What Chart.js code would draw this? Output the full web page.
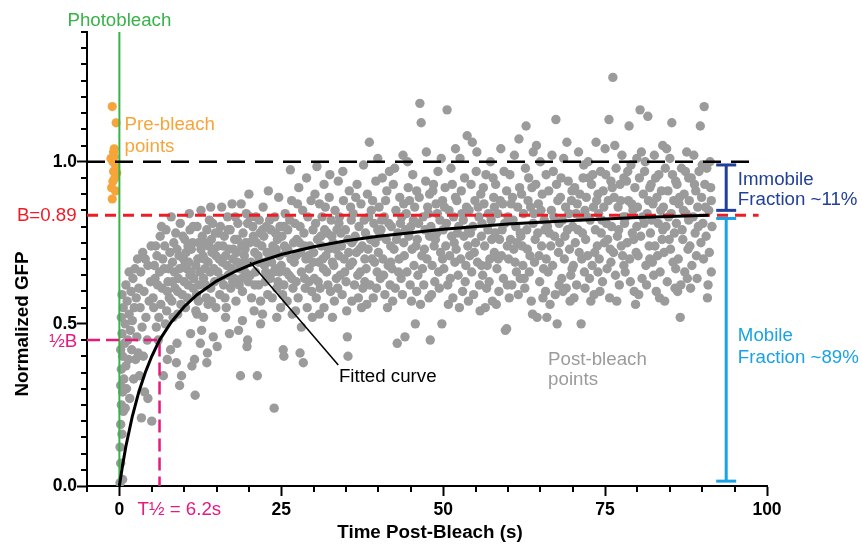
<!DOCTYPE html>
<html lang="en">
<head>
    <meta charset="UTF-8">
    <title>FRAP Recovery</title>
    <script src="https://cdn.jsdelivr.net/npm/chart.js"></script>
    <style>
        body {
            margin: 0;
            background: #fff;
        }
    </style>
</head>
<body>
    <canvas id="frap-chart" width="862" height="547"></canvas>

    <script>
        // pre-bleach intensities (time s, normalized GFP)
        const prebleachTime  = [-1.1, -0.5, -0.8, -0.9, -1.3, -1.0, -0.6, -0.9, -0.7, -1.0, -1.2, -0.6, -1.1, -0.8, -0.4];
        const prebleachValue = [1.17, 1.12, 1.04, 1.03, 1.01, 1.0, 0.99, 0.97, 0.95, 0.94, 0.92, 0.91, 0.885, 1.015, 0.965];

        // post-bleach points in time bands [t, value]
        const recovery0to5 = [
            [0.1,0.01],[0.5,0.02],[0.2,0.07],[0.1,0.12],[0.4,0.16],[0.2,0.19],[0.6,0.23],[0.3,0.25],[0.9,0.24],[0.5,0.29],
            [0.2,0.31],[1.1,0.30],[0.7,0.33],[0.3,0.36],[1.0,0.37],[0.5,0.40],[1.4,0.39],[0.2,0.42],[0.8,0.44],[1.3,0.45],
            [0.4,0.47],[1.7,0.48],[0.9,0.50],[0.3,0.52],[1.5,0.53],[2.0,0.51],[0.6,0.55],[1.2,0.57],[2.3,0.55],[0.4,0.59],
            [1.8,0.60],[2.6,0.58],[1.0,0.62],[2.1,0.64],[3.0,0.61],[2.4,0.67],[1.5,0.66],[3.3,0.66],[2.8,0.70],[3.6,0.72],
            [4.0,0.70],[4.4,0.68],[3.4,0.21],[5.0,0.20],[4.4,0.27],[3.9,0.29],[3.1,0.34],[2.5,0.39],[1.9,0.42],[2.7,0.46],
            [3.5,0.49],[4.1,0.52],[3.2,0.55],[4.6,0.57],[3.8,0.60],[4.8,0.63],[2.2,0.33],[1.6,0.27],[2.9,0.41],[4.3,0.45],
            [3.7,0.40],[4.9,0.74]
        ];
        const recovery5to15 = [
            [5.2,0.58],[5.5,0.64],[5.8,0.71],[6.1,0.52],[6.3,0.77],[6.6,0.61],[5.4,0.68],[6.0,0.45],[6.8,0.34],[6.9,0.67],
            [5.7,0.49],[6.4,0.56],[7.0,0.74],[5.9,0.62],[6.7,0.70],[5.3,0.55],[6.2,0.66],
            [7.2,0.79],[7.4,0.39],[7.5,0.63],[7.7,0.58],[7.9,0.42],[8.0,0.83],[8.2,0.69],[8.4,0.75],[7.3,0.54],[7.8,0.72],
            [8.6,0.61],[8.8,0.38],[8.9,0.44],[8.5,0.66],[8.1,0.57],[7.6,0.67],[8.7,0.78],[7.1,0.50],[8.3,0.52],[8.9,0.73],
            [9.1,0.64],[9.3,0.31],[9.4,0.81],[9.6,0.34],[9.7,0.59],[9.9,0.70],[10.1,0.76],[10.2,0.55],[10.4,0.67],[10.6,0.62],
            [10.8,0.84],[11.0,0.47],[9.2,0.71],[9.5,0.56],[9.8,0.77],[10.0,0.63],[10.3,0.72],[10.5,0.58],[10.7,0.69],[10.9,0.65],
            [9.0,0.60],[10.9,0.79],
            [11.1,0.73],[11.2,0.37],[11.4,0.61],[11.6,0.39],[11.7,0.28],[11.8,0.68],[12.0,0.80],[12.2,0.57],[12.4,0.66],[12.5,0.44],
            [12.6,0.85],[12.7,0.48],[12.9,0.71],[11.3,0.75],[11.5,0.64],[11.9,0.59],[12.1,0.70],[12.3,0.62],[12.8,0.77],[11.0,0.66],
            [12.0,0.53],[12.6,0.73],
            [13.0,0.64],[13.2,0.75],[13.4,0.58],[13.5,0.38],[13.6,0.41],[13.7,0.69],[13.9,0.82],[14.1,0.61],[14.3,0.72],[14.5,0.46],
            [14.6,0.67],[14.8,0.78],[14.9,0.55],[13.1,0.70],[13.3,0.62],[13.8,0.74],[14.0,0.66],[14.2,0.57],[14.4,0.81],[14.7,0.63],
            [14.9,0.71],[13.5,0.79],[14.2,0.76],[13.0,0.52],
            [5.6,0.74],[6.5,0.80],[7.4,0.60],[8.2,0.63],[9.3,0.67],[10.1,0.68],[11.4,0.80],[12.2,0.75],[13.2,0.67],[14.6,0.73],
            [10.6,0.74],[9.0,0.53],[11.8,0.54],[13.7,0.56],[14.1,0.86]
        ];
        const recovery15to30 = [
            [15.1,0.43],[15.2,0.66],[15.3,0.74],[15.5,0.59],[15.6,0.80],[15.8,0.86],[15.9,0.69],[16.1,0.62],[16.2,0.77],[16.4,0.71],
            [16.5,0.55],[16.7,0.83],[16.8,0.65],[16.9,0.73],[15.4,0.70],[16.3,0.58],[15.7,0.64],[16.6,0.68],
            [17.0,0.47],[17.1,0.79],[17.2,0.61],[17.4,0.87],[17.5,0.70],[17.7,0.64],[17.8,0.76],[18.0,0.57],[18.1,0.72],[18.3,0.81],
            [18.4,0.48],[18.6,0.67],[18.7,0.34],[18.8,0.87],[18.9,0.74],[17.3,0.67],[17.9,0.83],[18.5,0.62],[18.2,0.69],[17.6,0.73],
            [19.0,0.60],[19.1,0.78],[19.3,0.71],[19.4,0.66],[19.6,0.84],[19.7,0.43],[19.8,0.45],[19.9,0.63],[20.0,0.90],[20.1,0.75],
            [20.3,0.69],[20.4,0.58],[20.6,0.80],[20.8,0.54],[20.9,0.72],[19.2,0.69],[19.5,0.75],[20.2,0.65],[20.7,0.77],[19.8,0.81],
            [21.0,0.66],[21.1,0.83],[21.3,0.34],[21.4,0.71],[21.5,0.62],[21.7,0.78],[21.8,0.57],[22.0,0.74],[22.1,0.53],[22.2,0.86],
            [22.4,0.68],[22.5,0.63],[22.7,0.80],[22.8,0.72],[22.9,0.59],[21.2,0.75],[21.9,0.69],[22.3,0.77],[22.6,0.66],[21.6,0.82],
            [23.0,0.91],[23.1,0.70],[23.3,0.64],[23.4,0.79],[23.6,0.58],[23.7,0.74],[23.9,0.24],[24.0,0.83],[24.1,0.67],[24.3,0.61],
            [24.4,0.76],[24.6,0.89],[24.7,0.71],[24.9,0.55],[23.2,0.82],[23.8,0.66],[24.2,0.73],[24.8,0.80],[23.5,0.69],[24.5,0.63],
            [25.0,0.68],[25.1,0.77],[25.3,0.42],[25.4,0.40],[25.4,0.62],[25.6,0.84],[25.7,0.72],[25.9,0.57],[26.0,0.79],[26.2,0.65],
            [26.4,0.975],[26.5,0.70],[26.6,0.88],[26.8,0.61],[26.9,0.75],[25.2,0.59],[25.8,0.66],[26.3,0.82],[26.7,0.53],[25.5,0.74],
            [27.0,0.69],[27.1,0.81],[27.3,0.63],[27.4,0.76],[27.6,0.58],[27.7,0.92],[27.9,0.41],[28.0,0.72],[28.1,0.66],[28.3,0.85],
            [28.4,0.38],[28.5,0.78],[28.7,0.61],[28.8,0.70],[29.0,0.55],[29.1,0.83],[29.3,0.67],[29.4,0.74],[29.6,0.88],[29.7,0.60],
            [29.9,0.79],[27.2,0.54],[27.8,0.75],[28.6,0.64],[29.2,0.71],[29.8,0.52],[28.9,0.95],[27.5,0.87],
            [15.3,0.78],[16.0,0.74],[16.8,0.79],[17.5,0.63],[18.2,0.76],[18.9,0.64],[19.4,0.73],[20.2,0.83],[20.9,0.62],[21.5,0.69],
            [22.1,0.79],[22.8,0.65],[23.4,0.72],[24.1,0.78],[24.7,0.66],[25.4,0.80],[26.0,0.73],[26.6,0.64],[27.3,0.71],[27.9,0.80],
            [28.6,0.74],[29.3,0.63],[29.9,0.69],[16.4,0.52],[19.0,0.51],[21.8,0.50],[24.3,0.52],[28.1,0.49]
        ];
        const recovery30to50 = [
            [30.0,0.72],[30.1,0.64],[30.3,0.81],[30.4,0.58],[30.5,0.985],[30.6,0.76],[30.8,0.69],[30.9,0.87],[31.0,0.61],[31.2,0.74],
            [31.3,0.83],[31.5,0.67],[31.6,0.55],[31.7,0.79],[31.9,0.71],[30.2,0.90],[30.7,0.63],[31.1,0.77],[31.4,0.70],[31.8,0.86],
            [30.9,0.53],[31.6,0.93],
            [32.0,0.66],[32.1,0.78],[32.3,0.73],[32.4,0.89],[32.6,0.60],[32.7,0.82],[32.9,0.69],[33.0,0.75],[33.2,0.57],[33.3,0.85],
            [33.5,0.64],[33.6,0.79],[33.8,0.94],[33.9,0.71],[32.2,0.62],[32.8,0.77],[33.1,0.68],[33.4,0.73],[33.7,0.61],[32.5,0.96],
            [33.9,0.81],[32.9,0.52],
            [34.0,0.83],[34.1,0.65],[34.3,0.74],[34.4,0.59],[34.6,0.88],[34.7,0.70],[34.9,0.79],[35.0,0.63],[35.2,0.46],[35.3,0.40],
            [35.3,0.76],[35.5,0.91],[35.6,0.68],[35.8,0.82],[35.9,0.57],[34.2,0.78],[34.8,0.66],[35.4,0.72],[35.7,0.86],[34.5,0.97],
            [35.1,0.54],[35.9,0.75],
            [36.0,0.69],[36.1,0.84],[36.3,0.62],[36.4,0.77],[36.6,0.72],[36.7,0.93],[36.9,0.58],[37.0,0.80],[37.2,0.66],[37.3,0.87],
            [37.5,0.74],[37.6,0.61],[37.8,0.82],[37.9,0.70],[36.2,0.76],[36.8,0.65],[37.1,0.73],[37.4,0.55],[37.7,0.99],[36.5,0.89],
            [37.9,0.63],
            [38.0,0.78],[38.1,0.67],[38.3,0.90],[38.4,0.73],[38.6,1.06],[38.7,0.62],[38.9,0.85],[39.0,0.70],[39.2,0.58],[39.3,0.81],
            [39.5,0.75],[39.6,0.94],[39.8,0.66],[39.9,0.79],[38.2,0.56],[38.8,0.76],[39.1,0.88],[39.4,0.69],[39.7,0.61],[38.5,0.83],
            [39.9,1.01],
            [40.0,0.72],[40.1,0.86],[40.3,0.64],[40.4,0.79],[40.6,0.95],[40.7,0.70],[40.9,0.83],[41.0,0.59],[41.2,0.76],[41.3,0.91],
            [41.5,0.68],[41.6,0.81],[41.8,0.62],[41.9,0.74],[40.2,0.77],[40.8,0.65],[41.1,0.88],[41.4,0.55],[41.7,0.97],[40.5,0.82],
            [41.9,0.69],
            [42.0,0.80],[42.1,0.67],[42.3,0.93],[42.4,0.73],[42.6,0.61],[42.7,0.85],[42.9,0.44],[43.0,0.78],[43.2,0.70],[43.3,0.89],
            [43.5,0.64],[43.6,0.83],[43.8,1.02],[43.9,0.75],[42.2,0.57],[42.8,0.76],[43.1,0.66],[43.4,0.81],[43.7,0.59],[42.5,0.98],
            [43.9,0.87],
            [44.0,0.71],[44.1,0.46],[44.3,0.84],[44.4,0.66],[44.6,0.92],[44.7,0.77],[44.9,0.62],[45.0,0.80],[45.2,0.73],[45.3,0.96],
            [45.5,0.68],[45.6,0.86],[45.7,0.50],[45.8,0.74],[45.9,0.60],[44.2,0.79],[44.8,0.88],[45.1,0.57],[45.4,0.82],[44.5,1.00],
            [45.9,0.91],
            [46.0,0.76],[46.1,0.65],[46.3,0.89],[46.4,1.18],[46.6,1.12],[46.7,0.71],[46.9,0.83],[47.0,0.62],[47.2,0.79],[47.3,0.94],
            [47.5,0.70],[47.6,0.86],[47.8,0.58],[47.9,0.77],[46.2,0.81],[46.8,0.67],[47.1,0.73],[47.4,1.03],[47.7,0.84],[46.5,0.56],
            [47.9,0.90],
            [48.0,0.45],[48.1,0.80],[48.3,0.68],[48.4,0.91],[48.6,0.74],[48.7,0.63],[48.9,0.87],[49.0,0.78],[49.2,0.97],[49.3,0.66],
            [49.5,0.82],[49.6,0.72],[49.8,0.50],[49.9,0.88],[48.2,0.59],[48.8,0.76],[49.1,0.84],[49.4,0.61],[49.7,1.01],[48.5,0.93],
            [49.9,0.70]
        ];
        const recovery50to70 = [
            [50.0,0.79],[50.1,0.67],[50.3,0.92],[50.4,0.74],[50.6,1.16],[50.7,0.62],[50.9,0.85],[51.0,0.71],[51.2,0.98],[51.3,0.77],
            [51.5,0.58],[51.6,0.83],[51.8,0.69],[51.9,0.89],[50.2,0.86],[50.8,0.56],[51.1,0.64],[51.4,0.93],[51.7,0.75],[50.5,0.81],
            [51.9,1.04],
            [52.0,0.73],[52.1,0.88],[52.3,0.65],[52.4,0.80],[52.6,1.01],[52.7,0.70],[52.9,0.84],[53.0,0.60],[53.2,0.77],[53.3,0.95],
            [53.5,0.68],[53.6,0.86],[53.8,0.74],[53.9,0.57],[52.2,0.78],[52.8,0.91],[53.1,0.82],[53.4,0.63],[53.7,1.08],[52.5,0.55],
            [53.9,0.79],
            [54.0,0.85],[54.1,0.71],[54.3,0.93],[54.4,0.66],[54.6,0.80],[54.7,0.59],[54.9,0.88],[55.0,0.75],[55.2,1.03],[55.3,0.69],
            [55.5,0.83],[55.6,0.62],[55.8,0.90],[55.9,0.77],[54.2,0.78],[54.8,0.72],[55.1,0.97],[55.4,0.86],[55.7,0.54],[54.5,1.06],
            [55.9,0.68],
            [56.0,0.81],[56.1,0.65],[56.3,0.87],[56.4,0.74],[56.6,0.96],[56.7,0.61],[56.9,0.79],[57.0,0.84],[57.2,0.70],[57.3,1.00],
            [57.5,0.76],[57.6,0.57],[57.8,0.89],[57.9,0.72],[56.2,0.92],[56.8,0.68],[57.1,0.63],[57.4,0.82],[57.7,0.95],[56.5,0.55],
            [57.9,0.86],
            [58.0,0.78],[58.1,0.93],[58.3,0.67],[58.4,0.84],[58.6,0.60],[58.7,0.76],[58.9,1.04],[59.0,0.71],[59.2,0.87],[59.3,0.64],
            [59.5,0.81],[59.6,0.48],[59.8,0.485],[59.8,0.91],[59.9,0.74],[58.2,0.56],[58.8,0.88],[59.1,0.79],[59.4,0.97],[58.5,0.70],
            [59.9,0.62],
            [60.0,0.83],[60.1,0.70],[60.3,0.96],[60.4,0.76],[60.6,0.62],[60.7,0.89],[60.9,0.73],[61.0,1.02],[61.2,0.80],[61.3,0.66],
            [61.5,0.86],[61.6,0.59],[61.8,0.92],[61.9,0.78],[60.2,0.58],[60.8,0.82],[61.1,0.69],[61.4,0.75],[61.7,1.07],[60.5,0.87],
            [61.9,0.64],
            [62.0,0.77],[62.1,0.90],[62.3,0.68],[62.4,0.84],[62.6,0.61],[62.8,1.11],[62.9,0.79],[63.0,0.73],[63.2,0.95],[63.3,0.66],
            [63.5,0.86],[63.6,0.57],[63.8,0.53],[63.9,0.81],[62.2,0.74],[62.7,0.98],[63.1,0.88],[63.4,0.71],[63.7,0.92],[62.5,0.64],
            [63.9,1.03],
            [64.0,0.84],[64.1,0.69],[64.3,0.93],[64.5,0.52],[64.6,0.78],[64.7,0.87],[64.9,0.63],[65.0,1.00],[65.2,0.74],[65.3,0.90],
            [65.5,0.67],[65.6,0.82],[65.8,0.60],[65.9,0.96],[64.2,0.76],[64.8,0.71],[65.1,0.85],[65.4,0.58],[65.7,0.79],[64.4,1.05],
            [65.9,0.70],
            [66.0,0.52],[66.1,0.80],[66.3,0.91],[66.5,0.56],[66.6,0.74],[66.7,0.85],[66.9,0.68],[67.0,0.97],[67.2,0.77],[67.4,1.13],
            [67.6,0.50],[67.7,0.88],[67.8,0.72],[67.9,0.62],[66.2,0.66],[66.8,1.02],[67.1,0.83],[67.3,0.59],[67.5,0.93],[66.4,0.78],
            [67.9,0.81],
            [68.0,0.75],[68.1,0.89],[68.3,0.64],[68.4,0.82],[68.6,1.01],[68.7,0.70],[68.9,0.86],[69.0,0.61],[69.2,0.79],[69.3,0.94],
            [69.5,0.73],[69.6,0.57],[69.8,0.88],[69.9,0.67],[68.2,0.95],[68.8,0.77],[69.1,1.06],[69.4,0.84],[69.7,0.65],[68.5,0.60],
            [69.9,0.91]
        ];
        const recovery70to92 = [
            [70.0,0.80],[70.1,0.68],[70.3,0.92],[70.4,0.75],[70.6,0.62],[70.7,0.87],[70.9,1.03],[71.0,0.72],[71.2,0.83],[71.3,0.50],
            [71.5,0.78],[71.6,0.95],[71.8,0.66],[71.9,0.85],[70.2,0.58],[70.8,0.79],[71.1,0.90],[71.4,0.70],[71.7,0.99],[70.5,0.84],
            [71.9,0.61],
            [72.0,0.76],[72.1,0.89],[72.3,0.71],[72.4,1.00],[72.6,0.64],[72.7,0.82],[72.9,0.93],[73.0,0.68],[73.2,0.86],[73.3,0.59],
            [73.5,0.79],[73.6,1.06],[73.8,0.74],[73.9,0.90],[72.2,0.83],[72.8,0.57],[73.1,0.96],[73.4,0.72],[73.7,0.88],[72.5,0.95],
            [73.9,0.66],
            [74.0,0.84],[74.1,0.70],[74.3,0.97],[74.4,0.78],[74.6,0.63],[74.7,0.91],[74.9,0.75],[75.0,1.04],[75.2,0.81],[75.3,0.67],
            [75.5,0.88],[75.6,1.13],[75.8,0.73],[75.9,0.94],[74.2,0.60],[74.8,0.86],[75.1,0.96],[75.4,0.76],[75.7,0.58],[74.5,0.82],
            [75.9,0.69],
            [76.0,0.80],[76.2,1.26],[76.3,0.72],[76.4,0.89],[76.6,0.65],[76.7,0.98],[76.9,0.77],[77.0,0.86],[77.2,0.62],[77.3,0.93],
            [77.5,0.74],[77.6,1.02],[77.8,0.83],[77.9,0.68],[76.1,0.92],[76.8,0.57],[77.1,0.79],[77.4,0.88],[77.7,0.71],[76.5,1.05],
            [77.9,0.95],
            [78.0,0.81],[78.1,0.66],[78.3,0.94],[78.4,0.75],[78.6,0.88],[78.7,1.11],[78.9,0.63],[79.0,0.99],[79.2,0.78],[79.3,0.85],
            [79.5,0.60],[79.6,0.92],[79.8,0.72],[79.9,1.01],[78.2,0.83],[78.8,0.70],[79.1,0.87],[79.4,0.76],[79.7,0.56],[78.5,0.97],
            [79.9,0.80],
            [80.0,0.86],[80.1,0.71],[80.3,0.95],[80.4,1.16],[80.5,0.77],[80.7,0.64],[80.9,0.90],[81.0,0.81],[81.2,1.00],[81.3,0.68],
            [81.5,0.84],[81.6,1.14],[81.8,0.74],[81.9,0.92],[80.2,0.59],[80.8,0.83],[81.1,0.97],[81.4,0.62],[81.7,0.88],[80.6,1.03],
            [81.9,0.70],
            [82.0,0.78],[82.1,0.93],[82.3,0.69],[82.4,0.87],[82.6,1.02],[82.7,0.74],[82.9,0.60],[83.0,0.89],[83.2,0.81],[83.3,0.96],
            [83.5,0.66],[83.6,0.85],[83.8,0.76],[83.9,1.05],[82.2,0.82],[82.8,0.95],[83.1,0.71],[83.4,0.58],[83.7,0.91],[82.5,0.65],
            [83.9,0.79],
            [84.0,0.86],[84.1,0.72],[84.3,0.98],[84.4,0.80],[84.6,0.63],[84.7,0.91],[84.9,0.76],[85.0,1.01],[85.2,0.84],[85.3,1.12],
            [85.5,0.69],[85.6,0.88],[85.8,0.61],[85.9,0.94],[84.2,0.57],[84.8,0.83],[85.1,0.73],[85.4,0.96],[85.7,0.78],[84.5,1.04],
            [85.9,0.67],
            [86.0,0.81],[86.1,0.93],[86.3,0.70],[86.4,0.87],[86.6,0.52],[86.7,0.62],[86.8,0.98],[87.0,0.76],[87.2,0.90],[87.3,0.66],
            [87.5,0.84],[87.6,1.03],[87.8,0.73],[87.9,0.95],[86.2,0.60],[86.9,0.79],[87.1,0.85],[87.4,0.97],[87.7,0.64],[86.5,0.89],
            [87.9,0.82],
            [88.0,0.88],[88.1,0.74],[88.3,0.95],[88.4,0.68],[88.6,0.83],[88.7,1.02],[88.9,0.78],[89.0,0.91],[89.2,0.64],[89.3,0.86],
            [89.5,0.97],[89.7,1.11],[89.8,0.75],[89.9,0.89],[90.1,0.81],[90.2,0.70],[90.3,1.17],[90.4,0.93],[90.6,0.77],[90.7,0.98],
            [90.9,0.62],[91.0,0.85],[91.1,0.72],[91.3,0.92],[91.4,0.66],[91.5,0.80],[88.2,0.61],[88.8,0.93],[89.4,0.80],[90.0,0.99],
            [90.5,0.86],[91.2,1.00],[89.1,0.71],[90.8,0.58],[91.4,0.88]
        ];

        // fitted recovery curve
        const fitTime  = [0, 0.5, 1, 2, 3, 4, 5, 6.2, 8, 10, 12, 15, 18, 21, 25, 30, 35, 40, 50, 60, 70, 80, 91];
        const fitValue = [0, 0.065, 0.122, 0.215, 0.29, 0.35, 0.40, 0.45, 0.505, 0.553, 0.59, 0.632, 0.663, 0.688, 0.714, 0.738, 0.756, 0.77, 0.792, 0.808, 0.819, 0.828, 0.835];

        // reference levels and fraction bars
        const prebleachLevel = 1.0;
        const plateauLevel = 0.835;
        const halfLevel = 0.45;
        const halfTime = 6.2;
        const levelLineEnd = 98.7;
        const barTime = 93.7;
        const immobileRange = [0.99, 0.85];
        const mobileRange = [0.825, 0.015];

        // axes
        const xMin = -5, xMax = 100, xStep = 5, xLabelEvery = 25;
        const yMin = 0, yMax = 1.4, yStep = 0.05, yLabelValues = [0, 0.5, 1.0];

        const FONT = "'Liberation Sans', Arial, Helvetica, sans-serif";
        const GRAY = '#9b9b9b';
        const ORANGE = '#f7a53a';
        const GREEN = '#37b34a';
        const RED = '#ee1c25';
        const PINK = '#e6197f';
        const NAVY = '#21409a';
        const SKY = '#1aa3e4';

        const isMajorX = v => v >= 0 && v % xLabelEvery === 0;
        const isMajorY = v => yLabelValues.includes(Math.round(v * 100) / 100);

        const postBleach = [].concat(recovery0to5, recovery5to15, recovery15to30, recovery30to50, recovery50to70, recovery70to92)
            .map(p => ({ x: p[0], y: p[1] }));
        const preBleach = prebleachTime.map((t, i) => ({ x: t, y: prebleachValue[i] }));
        const fitCurve = fitTime.map((t, i) => ({ x: t, y: fitValue[i] }));

        function segment(color, width, dash, points, order) {
            return {
                data: points,
                showLine: true,
                borderColor: color,
                borderWidth: width,
                borderDash: dash,
                pointRadius: 0,
                fill: false,
                order: order
            };
        }

        function errorBar(color, range, order) {
            return {
                data: [{ x: barTime, y: range[0] }, { x: barTime, y: range[1] }],
                showLine: true,
                borderColor: color,
                borderWidth: 3,
                pointStyle: 'line',
                pointRadius: 10,
                pointBorderWidth: 3,
                pointBorderColor: color,
                order: order
            };
        }

        const frapLabels = {
            id: 'frapLabels',
            afterDraw(chart) {
                const { ctx, scales: { x, y } } = chart;

                // minor tick marks (shorter than the labelled ones)
                ctx.save();
                ctx.strokeStyle = '#000';
                ctx.lineWidth = 2;
                x.ticks.forEach(tk => {
                    if (isMajorX(tk.value)) return;
                    const px = Math.round(x.getPixelForValue(tk.value));
                    ctx.beginPath();
                    ctx.moveTo(px, x.top);
                    ctx.lineTo(px, x.top + 6);
                    ctx.stroke();
                });
                y.ticks.forEach(tk => {
                    if (isMajorY(tk.value)) return;
                    const py = Math.round(y.getPixelForValue(tk.value));
                    ctx.beginPath();
                    ctx.moveTo(y.right, py);
                    ctx.lineTo(y.right - 6, py);
                    ctx.stroke();
                });

                const put = (text, t, v, color, align) => {
                    ctx.font = '18.7px ' + FONT;
                    ctx.fillStyle = color;
                    ctx.textAlign = align || 'left';
                    ctx.textBaseline = 'alphabetic';
                    ctx.fillText(text, x.getPixelForValue(t), y.getPixelForValue(v));
                };

                put('Photobleach', 0, 1.42, GREEN, 'center');
                put('Pre-bleach', 0.8, 1.099, ORANGE);
                put('points', 0.8, 1.031, ORANGE);
                put('Immobile', 95.5, 0.929, NAVY);
                put('Fraction ~11%', 95.5, 0.867, NAVY);
                put('Mobile', 95.5, 0.448, SKY);
                put('Fraction ~89%', 95.5, 0.380, SKY);
                put('Post-bleach', 66.2, 0.373, GRAY);
                put('points', 66.2, 0.31, GRAY);
                put('Fitted curve', 33.9, 0.321, '#000');
                put('B=0.89', -6.6, 0.818, RED, 'right');
                put('\u00BDB', -6.5, 0.429, PINK, 'right');
                put('T\u00BD = 6.2s', 2.8, -0.0895, PINK);

                // axis titles
                ctx.font = 'bold 18.8px ' + FONT;
                ctx.fillStyle = '#000';
                ctx.textAlign = 'center';
                ctx.textBaseline = 'alphabetic';
                ctx.fillText('Time Post-Bleach (s)', (x.left + x.right) / 2 + 3, 538);
                ctx.translate(28, 324);
                ctx.rotate(-Math.PI / 2);
                ctx.fillText('Normalized GFP', 0, 0);
                ctx.restore();
            }
        };

        new Chart(document.getElementById('frap-chart'), {
            type: 'scatter',
            data: {
                datasets: [
                    segment('#000', 3, [], fitCurve, 1),
                    segment('#000', 1.5, [], [{ x: 20.2, y: 0.69 }, { x: 33.8, y: 0.373 }], 2),
                    errorBar(NAVY, immobileRange, 3),
                    errorBar(SKY, mobileRange, 3),
                    segment(RED, 3, [11, 7], [{ x: xMin, y: plateauLevel }, { x: levelLineEnd, y: plateauLevel }], 4),
                    segment('#000', 2.5, [18, 10], [{ x: xMin, y: prebleachLevel }, { x: levelLineEnd, y: prebleachLevel }], 5),
                    segment(PINK, 2.5, [13, 6], [{ x: xMin, y: halfLevel }, { x: halfTime, y: halfLevel }, { x: halfTime, y: 0 }], 6),
                    segment(GREEN, 2, [], [{ x: 0, y: yMin }, { x: 0, y: yMax }], 7),
                    {
                        data: preBleach,
                        backgroundColor: ORANGE,
                        borderWidth: 0,
                        pointRadius: 4.6,
                        order: 8
                    },
                    {
                        data: postBleach,
                        backgroundColor: GRAY,
                        borderWidth: 0,
                        pointRadius: 4.7,
                        order: 9
                    }
                ]
            },
            options: {
                responsive: false,
                animation: false,
                devicePixelRatio: 1,
                layout: { padding: { top: 32, right: 95, left: 0, bottom: 0 } },
                plugins: {
                    legend: { display: false },
                    tooltip: { enabled: false }
                },
                elements: { line: { tension: 0 } },
                scales: {
                    x: {
                        type: 'linear',
                        min: xMin,
                        max: xMax,
                        afterFit: s => { s.height = 61; },
                        ticks: {
                            stepSize: xStep,
                            autoSkip: false,
                            maxRotation: 0,
                            padding: 4,
                            color: '#000',
                            font: { family: FONT, size: 17.5, weight: 'bold' },
                            callback: v => isMajorX(v) ? String(v) : ''
                        },
                        grid: {
                            drawOnChartArea: false,
                            tickLength: 10,
                            tickWidth: 2,
                            tickColor: c => isMajorX(c.tick.value) ? '#000' : 'rgba(0,0,0,0)'
                        },
                        border: { color: '#000', width: 2 }
                    },
                    y: {
                        type: 'linear',
                        min: yMin,
                        max: yMax,
                        afterFit: s => { s.width = 87; },
                        ticks: {
                            stepSize: yStep,
                            autoSkip: false,
                            padding: 0,
                            color: '#000',
                            font: { family: FONT, size: 17.5, weight: 'bold' },
                            callback: v => isMajorY(v) ? (Math.round(v * 10) / 10).toFixed(1) : ''
                        },
                        grid: {
                            drawOnChartArea: false,
                            tickLength: 10,
                            tickWidth: 2,
                            tickColor: c => isMajorY(c.tick.value) ? '#000' : 'rgba(0,0,0,0)'
                        },
                        border: { color: '#000', width: 2 }
                    }
                }
            },
            plugins: [frapLabels]
        });
    </script>
</body>
</html>
